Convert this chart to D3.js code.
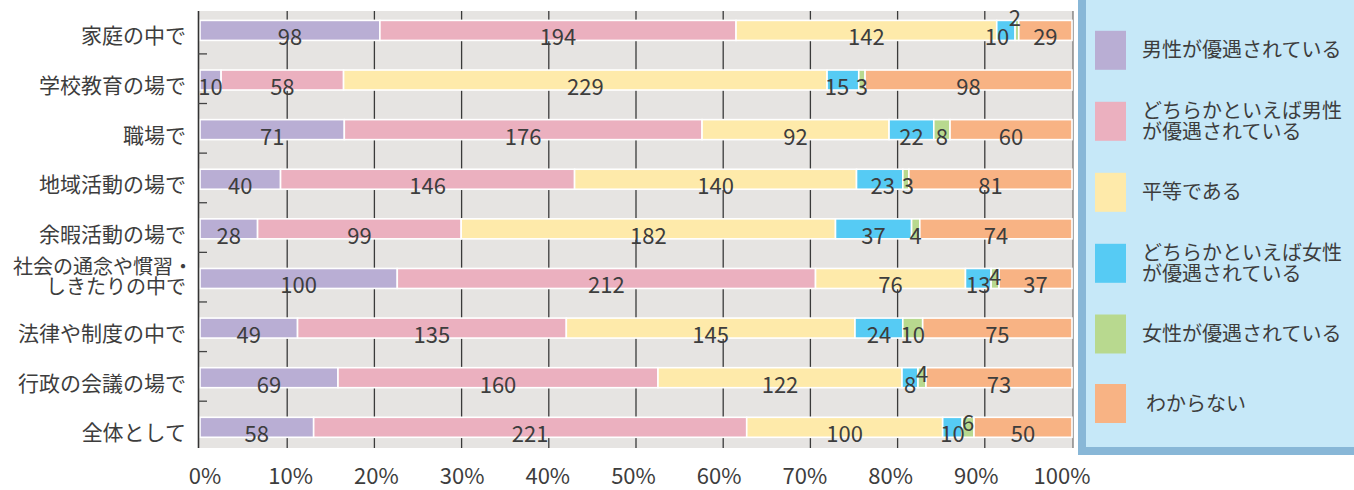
<!DOCTYPE html>
<html><head><meta charset="utf-8">
<script src="https://cdn.jsdelivr.net/npm/d3@7/dist/d3.min.js"></script>
<style>
html,body{margin:0;padding:0;background:#fff;}
svg{display:block;font-family:"Noto Sans CJK JP","Noto Sans",sans-serif;}
</style></head>
<body><svg id="c" width="1354" height="490"></svg>
<script>
const categories = ["家庭の中で","学校教育の場で","職場で","地域活動の場で","余暇活動の場で","社会の通念や慣習・しきたりの中で","法律や制度の中で","行政の会議の場で","全体として"];
const seriesNames = ["男性が優遇されている","どちらかといえば男性が優遇されている","平等である","どちらかといえば女性が優遇されている","女性が優遇されている","わからない"];
const male       = [98, 10, 71, 40, 28, 100, 49, 69, 58];
const ratherMale = [194, 58, 176, 146, 99, 212, 135, 160, 221];
const equal      = [142, 229, 92, 140, 182, 76, 145, 122, 100];
const ratherFem  = [10, 15, 22, 23, 37, 13, 24, 8, 10];
const female     = [2, 3, 8, 3, 4, 4, 10, 4, 6];
const unknown    = [29, 98, 60, 81, 74, 37, 75, 73, 50];
const tickValues = [0,10,20,30,40,50,60,70,80,90,100];
const tickLabels = ["0%","10%","20%","30%","40%","50%","60%","70%","80%","90%","100%"];

const series = [male, ratherMale, equal, ratherFem, female, unknown];
const colors = ["#b9aed4","#ebb0bf","#feeaaa","#56cbf4","#b8d98f","#f8b384"];
const textColor = "#3d3d3d";
const fw = 400;

const svg = d3.select("#c");
const x = d3.scaleLinear().domain([0,100]).range([200,1072]);
const xLab = d3.scaleLinear().domain([0,100]).range([205,1062]);
const y = d3.scalePoint().domain(categories).range([30.4,427.3]);
const plotTop = 11, plotBottom = 448;

// background
svg.append("rect").attr("x",198).attr("y",plotTop).attr("width",1073-198).attr("height",plotBottom-plotTop).attr("fill","#e6e4e2");

// gridlines
svg.append("g").selectAll("line").data(tickValues.filter(v=>v>0&&v<100)).join("line")
  .attr("x1",d=>x(d)).attr("x2",d=>x(d)).attr("y1",plotTop).attr("y2",plotBottom)
  .attr("stroke","#3a3a3a").attr("stroke-width",1.3);
// right border
svg.append("line").attr("x1",1073).attr("x2",1073).attr("y1",plotTop).attr("y2",plotBottom).attr("stroke","#555").attr("stroke-width",1);

// stacked data
const rows = categories.map((c,i)=>{
  const vals = series.map(s=>s[i]);
  const tot = d3.sum(vals);
  let cum = 0;
  return vals.map((v,k)=>{ const s = {cat:c, k, v, x0: cum/tot*100, x1:(cum+v)/tot*100}; cum += v; return s; });
});

const bars = svg.append("g");
rows.forEach(r=>{
  bars.selectAll(null).data(r).join("rect")
    .attr("x",d=>x(d.x0)).attr("width",d=>Math.max(0,x(d.x1)-x(d.x0)))
    .attr("y",d=>y(d.cat)-10).attr("height",20)
    .attr("fill",d=>colors[d.k]).attr("stroke","#fff").attr("stroke-width",1.6);
});

// left axis line & ticks
svg.append("line").attr("x1",198.5).attr("x2",198.5).attr("y1",plotTop).attr("y2",plotBottom).attr("stroke","#333").attr("stroke-width",1.6);
svg.append("g").selectAll("line").data(categories.slice(0,-1)).join("line")
  .attr("x1",198).attr("x2",207).attr("y1",d=>y(d)+23.5).attr("y2",d=>y(d)+23.5)
  .attr("stroke","#444").attr("stroke-width",1.3);

// value labels
const dyAdj = {"家庭の中で":-19,"社会の通念や慣習・しきたりの中で":-8,"行政の会議の場で":-11,"全体として":-11};
const dxAdj = {"家庭の中で|3":-9,"家庭の中で|4":-2,"学校教育の場で|3":-6,"地域活動の場で|3":3,"地域活動の場で|4":2};
const labs = svg.append("g").attr("font-size",22).attr("font-weight",fw).attr("fill",textColor).attr("text-anchor","middle");
rows.forEach(r=>{
  labs.selectAll(null).data(r).join("text")
    .attr("x",d=>(x(d.x0)+x(d.x1))/2 + (dxAdj[d.cat+"|"+d.k]||0))
    .attr("y",d=>y(d.cat)+15 + (d.k===4 && dyAdj[d.cat]!==undefined ? dyAdj[d.cat] : 0))
    .text(d=>d.v);
});

// category labels
const cl = svg.append("g").attr("font-size",21).attr("font-weight",fw).attr("fill",textColor).attr("text-anchor","end");
categories.forEach(c=>{
  if(c==="社会の通念や慣習・しきたりの中で"){
    cl.append("text").attr("x",193).attr("y",y(c)-4).attr("font-size",20).text("社会の通念や慣習・");
    cl.append("text").attr("x",186).attr("y",y(c)+15.5).attr("font-size",20).text("しきたりの中で");
  } else {
    cl.append("text").attr("x",186).attr("y",y(c)+13).text(c);
  }
});

// x tick labels
svg.append("g").attr("font-size",22).attr("font-weight",fw).attr("fill",textColor).attr("text-anchor","middle")
  .selectAll("text").data(tickValues).join("text")
  .attr("x",d=>xLab(d)).attr("y",483.5).text((d,i)=>tickLabels[i]);

// legend panel
svg.append("rect").attr("x",1082).attr("y",-10).attr("width",320).attr("height",461)
  .attr("fill","#c6e8f8").attr("stroke","#88b7d7").attr("stroke-width",8);
const legendCenters = [50.3,121.3,192.3,263.3,334,403.5];
const legendLines = [["男性が優遇されている"],["どちらかといえば男性","が優遇されている"],["平等である"],["どちらかといえば女性","が優遇されている"],["女性が優遇されている"],["わからない"]];
const lg = svg.append("g");
seriesNames.forEach((n,i)=>{
  const cy = legendCenters[i];
  lg.append("rect").attr("x",1095).attr("y",cy-19.5).attr("width",31).attr("height",39).attr("fill",colors[i]);
  const lines = legendLines[i];
  const tx = i===5 ? 1146 : 1142;
  lines.forEach((l,j)=>{
    const off = lines.length===1 ? 0 : (j===0 ? -10.8 : 10.8);
    lg.append("text").attr("x",tx).attr("y",cy+off+7).attr("font-size",20).attr("font-weight",fw).attr("fill",textColor).text(l);
  });
});
</script></body></html>
